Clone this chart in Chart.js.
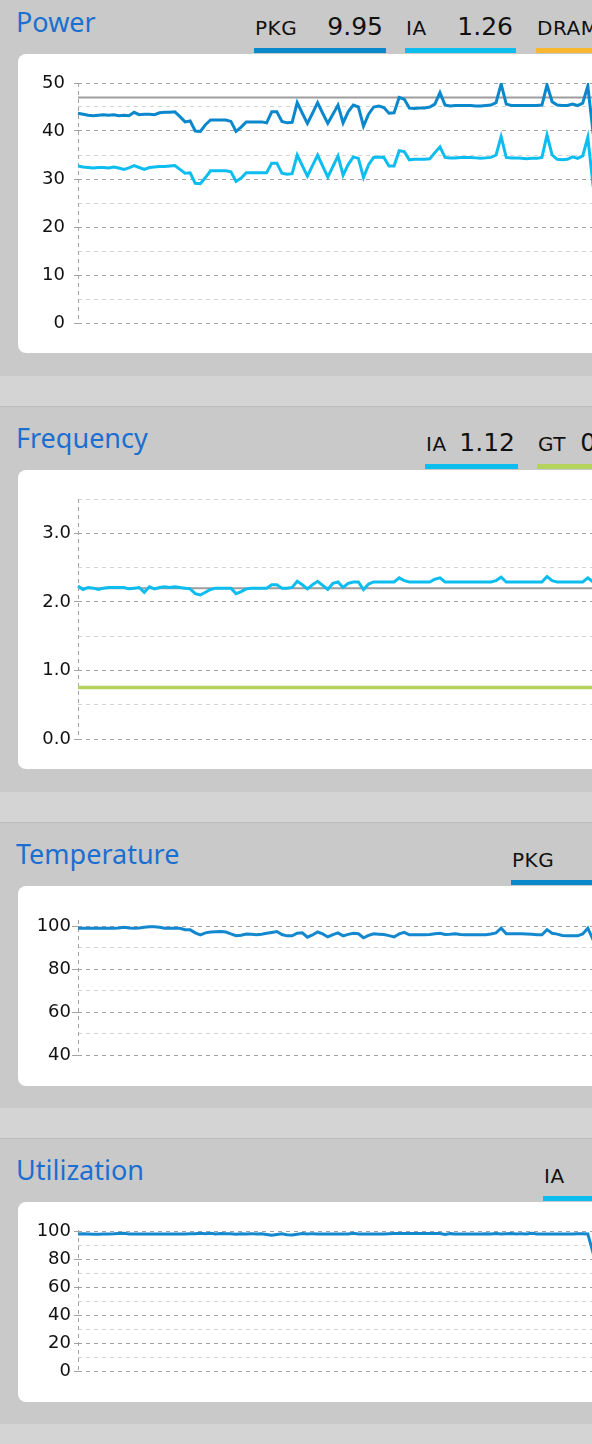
<!DOCTYPE html>
<html>
<head>
<meta charset="utf-8">
<script src="https://cdn.jsdelivr.net/npm/chart.js@4.4.1/dist/chart.umd.min.js"></script>
<style>
  html, body { margin: 0; padding: 0; }
  body { width: 592px; height: 1444px; overflow: hidden; background: #c9c9c9; position: relative; font-family: "DejaVu Sans", sans-serif; }
  .panel { position: absolute; left: 0; width: 700px; background: #c9c9c9; }
  .band { position: absolute; left: 0; width: 700px; height: 31px; background: #d4d4d4; border-bottom: 1px solid #bcbcbc; box-sizing: border-box; }
  .title { position: absolute; left: 16px; top: 16px; font: 27px/30px "Noto Sans", sans-serif; color: #1b6fd1; white-space: nowrap; }
  .card { position: absolute; left: 18px; top: 63px; width: 660px; background: #fff; border-radius: 8px; }
  .card canvas { position: absolute; left: 0; }
  .item { position: absolute; top: 23px; height: 39px; border-bottom: 5px solid; box-sizing: border-box;
          display: flex; align-items: baseline; justify-content: space-between; padding: 0 3px 0 1px; white-space: nowrap; }
  .item .lab { font-size: 20px; line-height: 20px; color: #111; letter-spacing: 0.5px; }
  .item .val { font-size: 25px; line-height: 25px; color: #111; }
</style>
</head>
<body>

<div class="panel" style="top:-9px; height:385px;">
  <div class="title">Power</div>
  <div class="item" id="leg-power-0" style="left:254px; width:132px; border-color:#0b87cc;"></div>
  <div class="item" id="leg-power-1" style="left:405px; width:111px; border-color:#0dbdf0;"></div>
  <div class="item" id="leg-power-2" style="left:536px; width:110px; border-color:#f7b82f;"></div>
  <div class="card" style="height:299px;"><canvas id="powerChart" width="580" height="280" style="top:9px;"></canvas></div>
</div>
<div class="band" style="top:376px;"></div>

<div class="panel" style="top:407px; height:385px;">
  <div class="title">Frequency</div>
  <div class="item" id="leg-freq-0" style="left:425px; width:93px; border-color:#0dbdf0;"></div>
  <div class="item" id="leg-freq-1" style="left:537px; width:102px; border-color:#b4d25c;"></div>
  <div class="card" style="height:299px;"><canvas id="freqChart" width="580" height="280" style="top:9px;"></canvas></div>
</div>
<div class="band" style="top:792px;"></div>

<div class="panel" style="top:823px; height:285px;">
  <div class="title">Temperature</div>
  <div class="item" id="leg-temp-0" style="left:511px; width:150px; border-color:#0b87cc;"></div>
  <div class="card" style="height:200px;"><canvas id="tempChart" width="580" height="175" style="top:14px;"></canvas></div>
</div>
<div class="band" style="top:1108px;"></div>

<div class="panel" style="top:1139px; height:285px;">
  <div class="title">Utilization</div>
  <div class="item" id="leg-util-0" style="left:543px; width:110px; border-color:#0dbdf0;"></div>
  <div class="card" style="height:200px;"><canvas id="utilChart" width="580" height="181" style="top:8px;"></canvas></div>
</div>
<div class="band" style="top:1424px;"></div>

<script>
// readings, one sample every ~5px
const pkgPower = [
  43.7,43.5,43.3,43.2,43.3,43.4,43.3,43.4,43.2,43.3,
  43.2,43.9,43.4,43.5,43.5,43.4,43.8,43.9,43.9,44.0,
  43.0,41.9,42.1,40.0,39.9,41.3,42.3,42.3,42.3,42.3,
  42.0,39.9,40.8,41.9,41.9,41.9,41.9,41.7,44.0,44.0,
  42.0,41.7,41.8,45.9,43.7,41.6,43.7,45.9,43.7,41.6,
  43.5,45.4,41.7,44.0,45.4,45.0,41.0,43.5,45.0,45.2,
  44.9,43.7,43.8,47.0,46.6,44.8,44.7,44.8,44.8,45.0,
  45.6,48.0,45.4,45.2,45.3,45.3,45.3,45.3,45.2,45.2,
  45.3,45.4,45.9,49.8,45.6,45.3,45.3,45.3,45.3,45.3,
  45.3,45.4,49.6,46.1,45.4,45.3,45.3,45.6,45.3,45.8,
  49.4,40.0,41.0
];
const iaPower = [
  32.7,32.5,32.4,32.3,32.4,32.4,32.3,32.5,32.3,32.0,
  32.3,32.8,32.4,32.0,32.4,32.5,32.6,32.6,32.7,32.8,
  32.0,31.2,31.3,29.1,29.0,30.3,31.7,31.7,31.7,31.7,
  31.5,29.5,30.2,31.3,31.3,31.3,31.3,31.3,33.3,33.3,
  31.2,31.0,31.1,35.0,32.8,30.6,32.8,35.0,32.7,30.4,
  32.6,34.8,30.8,33.0,34.6,34.3,30.3,33.0,34.5,34.6,
  34.5,32.7,32.7,35.9,35.7,34.0,34.1,34.1,34.1,34.2,
  35.5,36.7,34.5,34.4,34.4,34.5,34.5,34.5,34.4,34.3,
  34.4,34.5,35.0,38.8,34.5,34.4,34.4,34.3,34.2,34.3,
  34.3,34.5,39.2,35.0,34.1,34.0,34.1,34.6,34.3,34.8,
  38.7,29.0,30.0
];
const powerLimit = 47;

const iaFreq = [
  2.23,2.18,2.21,2.20,2.18,2.20,2.21,2.21,2.21,2.21,
  2.19,2.20,2.21,2.14,2.22,2.19,2.21,2.22,2.21,2.22,
  2.21,2.20,2.19,2.12,2.10,2.14,2.18,2.20,2.20,2.20,
  2.20,2.12,2.15,2.19,2.20,2.20,2.20,2.20,2.25,2.25,
  2.20,2.20,2.21,2.30,2.25,2.19,2.25,2.30,2.24,2.18,
  2.27,2.29,2.21,2.27,2.29,2.29,2.18,2.26,2.29,2.29,
  2.29,2.29,2.29,2.35,2.31,2.29,2.29,2.29,2.29,2.29,
  2.33,2.35,2.29,2.29,2.29,2.29,2.29,2.29,2.29,2.29,
  2.29,2.29,2.31,2.36,2.29,2.29,2.29,2.29,2.29,2.29,
  2.29,2.29,2.37,2.31,2.29,2.29,2.29,2.29,2.29,2.29,
  2.35,2.29,2.29
];
const gtFreq = [
  0.75,0.75,0.75,0.75,0.75,0.75,0.75,0.75,0.75,0.75,
  0.75,0.75,0.75,0.75,0.75,0.75,0.75,0.75,0.75,0.75,
  0.75,0.75,0.75,0.75,0.75,0.75,0.75,0.75,0.75,0.75,
  0.75,0.75,0.75,0.75,0.75,0.75,0.75,0.75,0.75,0.75,
  0.75,0.75,0.75,0.75,0.75,0.75,0.75,0.75,0.75,0.75,
  0.75,0.75,0.75,0.75,0.75,0.75,0.75,0.75,0.75,0.75,
  0.75,0.75,0.75,0.75,0.75,0.75,0.75,0.75,0.75,0.75,
  0.75,0.75,0.75,0.75,0.75,0.75,0.75,0.75,0.75,0.75,
  0.75,0.75,0.75,0.75,0.75,0.75,0.75,0.75,0.75,0.75,
  0.75,0.75,0.75,0.75,0.75,0.75,0.75,0.75,0.75,0.75,
  0.75,0.75,0.75
];
const baseFreq = 2.2;

const pkgTemp = [
  99.2,99.2,99.2,99.2,99.2,99.2,99.2,99.2,99.3,99.6,
  99.3,99.2,99.3,99.6,99.8,99.8,99.6,99.2,99.2,99.2,
  99.1,98.5,98.4,97.0,96.1,97.0,97.4,97.5,97.6,97.4,
  96.5,95.7,95.9,96.5,96.4,96.1,96.4,96.8,97.2,97.6,
  96.2,95.6,95.6,96.8,97.0,95.0,96.0,97.4,96.5,95.1,
  96.2,97.0,95.6,96.3,96.8,96.6,94.7,95.8,96.6,96.4,
  96.2,95.7,95.1,96.5,97.2,96.1,96.1,96.1,96.1,96.2,
  96.6,96.8,96.2,96.3,96.6,96.2,96.1,96.1,96.1,96.1,
  96.1,96.5,97.0,99.2,96.6,96.6,96.6,96.6,96.5,96.3,
  96.1,96.1,98.5,96.8,96.4,95.8,95.6,95.6,95.6,96.5,
  99.2,94.0,95.0
];

const iaUtil = [
  98.2,98.3,98.2,98.0,98.0,98.2,98.2,98.3,98.5,98.6,
  98.2,98.1,98.1,98.1,98.1,98.1,98.1,98.1,98.1,98.1,
  98.1,98.2,98.4,98.4,98.6,98.3,98.6,98.2,98.5,98.3,
  98.3,98.0,98.3,98.2,98.4,98.1,98.3,97.8,97.2,97.8,
  98.3,97.6,97.4,98.0,98.4,98.1,98.4,98.2,98.2,98.2,
  98.2,98.2,98.2,98.2,98.6,98.2,98.1,98.1,98.1,98.1,
  98.1,98.3,98.5,98.5,98.5,98.5,98.5,98.5,98.5,98.5,
  98.5,98.5,97.8,98.4,98.2,98.2,98.2,98.2,98.2,98.2,
  98.3,98.1,98.5,98.1,98.3,98.5,98.1,98.4,98.2,98.6,
  98.2,98.2,98.2,98.2,98.2,98.2,98.2,98.2,98.4,98.3,
  98.2,85.0,90.0
];

// sample index labels for the (hidden) x axis
const samples = pkgPower.map((_, i) => i);

// legend readouts
const powerLegendLabels = ['PKG', 'IA', 'DRAM'];
const powerLegendValues = ['9.95', '1.26', '0.52'];
const freqLegendLabels = ['IA', 'GT'];
const freqLegendValues = ['1.12', '0.75'];
const tempLegendLabels = ['PKG'];
const tempLegendValues = ['97'];
const utilLegendLabels = ['IA'];
const utilLegendValues = ['98'];

function fillLegend(prefix, labels, values) {
  labels.forEach((lab, i) => {
    const el = document.getElementById(prefix + i);
    el.innerHTML = '<span class="lab">' + lab + '</span><span class="val">' + values[i] + '</span>';
  });
}
fillLegend('leg-power-', powerLegendLabels, powerLegendValues);
fillLegend('leg-freq-', freqLegendLabels, freqLegendValues);
fillLegend('leg-temp-', tempLegendLabels, tempLegendValues);
fillLegend('leg-util-', utilLegendLabels, utilLegendValues);

const PKG_BLUE = '#0b87cc';
const IA_BLUE = '#0dbdf0';
const GT_GREEN = '#b4d25c';
const LIMIT_GRAY = '#9d9d9d';
const MAJOR_GRID = '#a3a3a3';
const MINOR_GRID = '#d3d3d3';

// dashed vertical axis on the left of the plot
const leftAxisLine = {
  id: 'leftAxisLine',
  beforeDatasetsDraw(chart) {
    const { ctx, chartArea } = chart;
    const x = Math.round(chartArea.left) + 0.5;
    ctx.save();
    ctx.strokeStyle = MAJOR_GRID;
    ctx.lineWidth = 1;
    ctx.setLineDash([4, 4]);
    ctx.beginPath();
    ctx.moveTo(x, chartArea.top);
    ctx.lineTo(x, chartArea.bottom);
    ctx.stroke();
    ctx.restore();
  }
};

function refLine(value) {
  return [{ x: samples[0], y: value }, { x: samples[samples.length - 1], y: value }];
}

function makeChart(id, datasets, y) {
  const isMajor = v => Math.abs(v / y.major - Math.round(v / y.major)) < 1e-6;
  return new Chart(document.getElementById(id), {
    type: 'line',
    data: { labels: samples, datasets: datasets },
    options: {
      responsive: false,
      animation: false,
      layout: { padding: { top: 20, bottom: 20, left: 0, right: 0 } },
      plugins: { legend: { display: false }, tooltip: { enabled: false } },
      elements: { point: { radius: 0 }, line: { tension: 0, borderWidth: 3 } },
      scales: {
        x: { type: 'category', display: false },
        y: {
          min: y.min,
          max: y.max,
          afterFit(scale) { scale.width = 60; },
          border: { display: false, dash: [4, 4] },
          grid: {
            color: c => (c.tick && isMajor(c.tick.value)) ? MAJOR_GRID : MINOR_GRID,
            tickColor: c => (c.tick && isMajor(c.tick.value)) ? MAJOR_GRID : 'rgba(0,0,0,0)',
            tickLength: y.tickLength
          },
          ticks: {
            stepSize: y.step,
            autoSkip: false,
            includeBounds: false,
            padding: y.padding,
            color: '#111',
            font: { family: 'DejaVu Sans', size: 18 },
            callback: v => isMajor(v) ? y.format(v) : ''
          }
        }
      }
    },
    plugins: [leftAxisLine]
  });
}

makeChart('powerChart', [
  { data: pkgPower, borderColor: PKG_BLUE },
  { data: iaPower, borderColor: IA_BLUE },
  { data: refLine(powerLimit), borderColor: LIMIT_GRAY, borderWidth: 2 }
], { min: 0, max: 50, step: 5, major: 10, tickLength: 4, padding: 9, format: v => String(v) });

makeChart('freqChart', [
  { data: iaFreq, borderColor: IA_BLUE },
  { data: gtFreq, borderColor: GT_GREEN, borderWidth: 3.5 },
  { data: refLine(baseFreq), borderColor: LIMIT_GRAY, borderWidth: 2 }
], { min: 0, max: 3.5, step: 0.5, major: 1, tickLength: 4, padding: 3, format: v => v.toFixed(1) });

makeChart('tempChart', [
  { data: pkgTemp, borderColor: '#1488cf' }
], { min: 40, max: 103, step: 10, major: 20, tickLength: 6, padding: 1, format: v => String(v) });

makeChart('utilChart', [
  { data: iaUtil, borderColor: '#1488cf' }
], { min: 0, max: 101, step: 10, major: 20, tickLength: 4, padding: 3, format: v => String(v) });
</script>
</body>
</html>
